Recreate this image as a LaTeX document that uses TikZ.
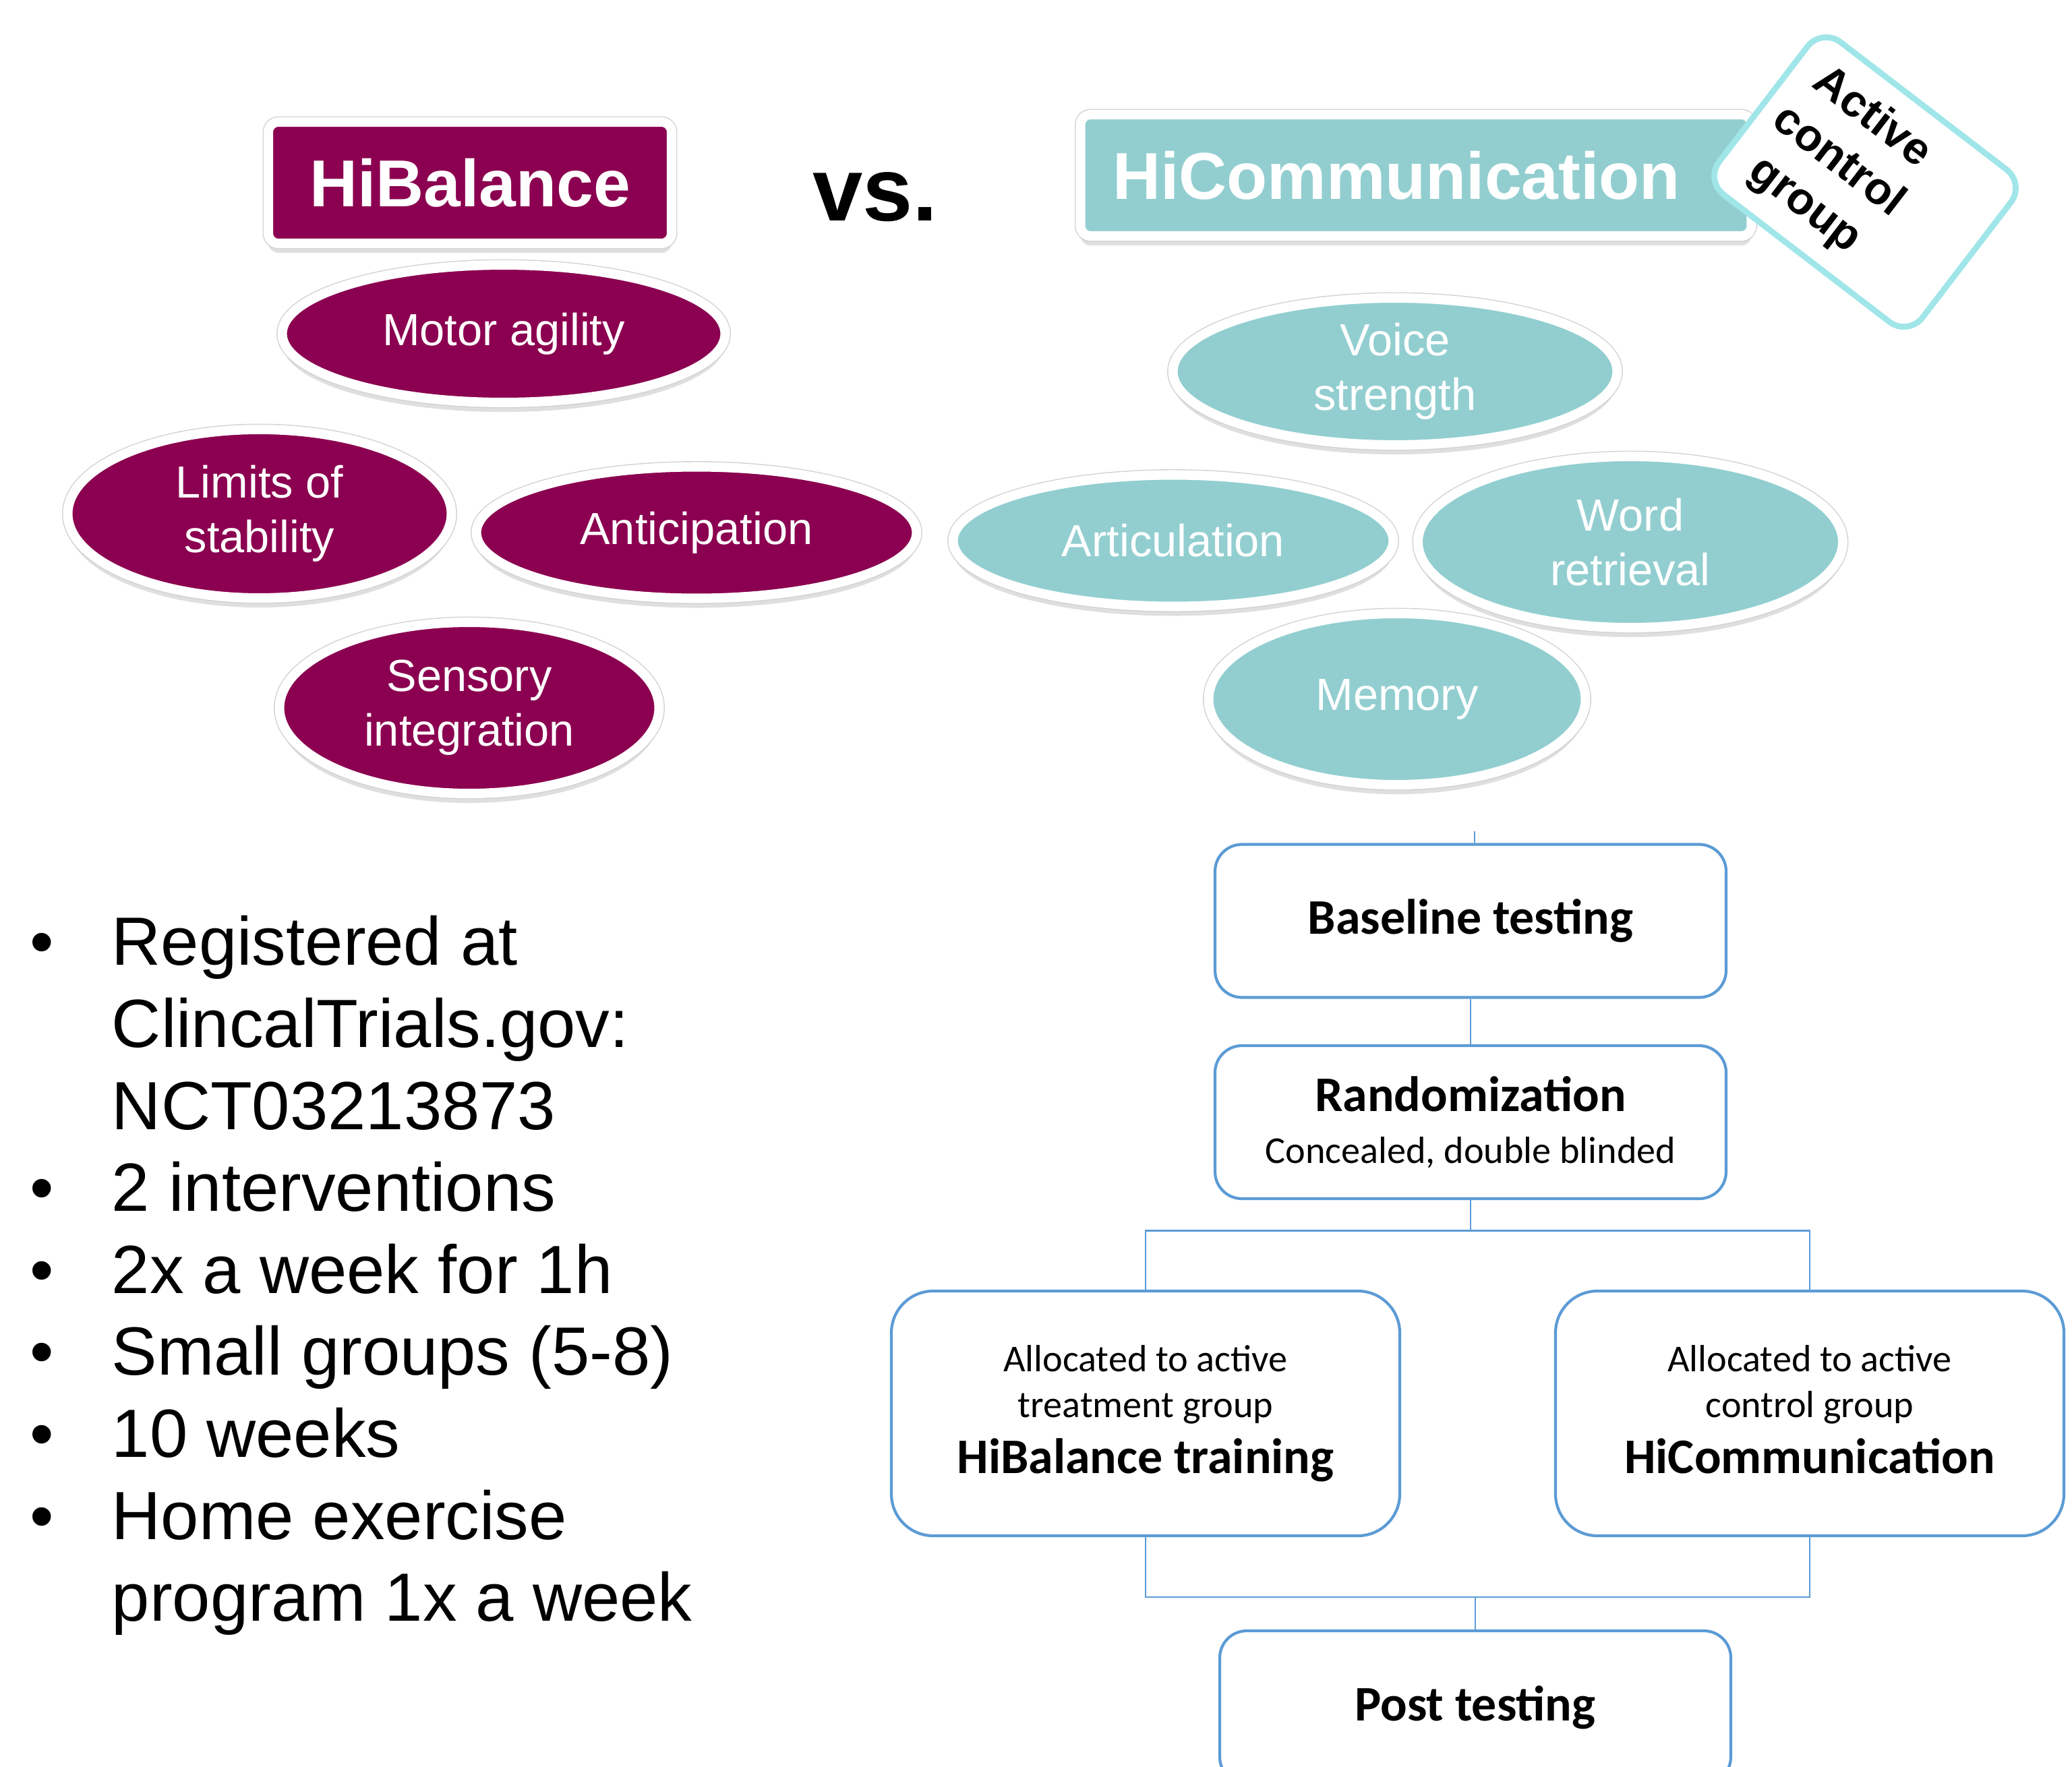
\documentclass[tikz,border=0pt]{standalone}
\usepackage{fontspec}
\setmainfont{Liberation Sans}
\newfontfamily\calibri{Carlito}
\usetikzlibrary{shapes.geometric,shadows}

\definecolor{hipurple}{RGB}{139,0,80}
\definecolor{hiteal}{RGB}{146,206,208}
\definecolor{ctrlcyan}{RGB}{160,230,233}
\definecolor{flowblue}{RGB}{91,155,213}

\begin{document}
\begin{tikzpicture}

  \tikzset{
  TitleStyle/.style = {
  shape = rectangle,
  rounded corners = 0.15cm,
  draw = white,
  line width = 4pt,
  text = white,
  font = \fontsize{28}{34}\selectfont\bfseries,
  minimum height = 1.80cm,
  drop shadow = {shadow xshift=0pt, shadow yshift=-4pt, opacity=0.25},
  preaction = {draw=black!18, line width=4.8pt}},
  AreaStyle/.style = {
  shape = ellipse,
  draw = white,
  line width = 4pt,
  text = white,
  align = center,
  inner sep = 0pt,
  font = \fontsize{19}{23}\selectfont,
  drop shadow = {shadow xshift=0pt, shadow yshift=-4pt, opacity=0.25},
  preaction = {draw=black!18, line width=4.8pt}},
  FlowStyle/.style = {
  shape = rectangle,
  rounded corners = 0.4cm,
  draw = flowblue,
  line width = 1.2pt,
  fill = white,
  align = center,
  inner sep = 0pt,
  minimum width = 7.58cm,
  minimum height = 2.27cm},
  LinkStyle/.style = {draw = flowblue, line width = 0.8pt}}

  \useasboundingbox (0,0) rectangle (30.73,-26.21);

  \node[TitleStyle, fill=hipurple, minimum width=5.98cm] (HB) at (6.97,-2.71) {HiBalance};
  \node[font=\fontsize{38}{44}\selectfont\bfseries] (VS) at (12.98,-2.92) {vs.};
  \node[TitleStyle, fill=hiteal, inner xsep=0.475cm, text width=9.0cm, align=left] (HC) at (21.00,-2.60) {HiCommunication};

  \node[shape=rectangle, rounded corners=0.35cm, draw=ctrlcyan, line width=2.5pt,
    fill=white, minimum width=3.8cm, minimum height=2.85cm, rotate=-37.5] (AC) at (27.66,-2.70) {};
  \node[rotate=-37.5, align=center, font=\fontsize{19}{23.2}\selectfont\bfseries]
    (ACtext) at (27.26,-2.40) {Active\\control\\group};

  \node[AreaStyle, fill=hipurple, minimum width=6.57cm, minimum height=2.04cm] (MA) at (7.47,-4.95) {Motor agility};
  \node[AreaStyle, fill=hipurple, minimum width=5.69cm, minimum height=2.50cm] (LS) at (3.85,-7.62) {Limits of\\stability};
  \node[AreaStyle, fill=hipurple, minimum width=6.53cm, minimum height=1.95cm] (AN) at (10.33,-7.90) {Anticipation};
  \node[AreaStyle, fill=hipurple, minimum width=5.63cm, minimum height=2.54cm] (SI) at (6.96,-10.50) {Sensory\\integration};

  \node[AreaStyle, fill=hiteal, minimum width=6.59cm, minimum height=2.18cm] (VO) at (20.69,-5.51) {Voice\\strength};
  \node[AreaStyle, fill=hiteal, minimum width=6.53cm, minimum height=1.95cm] (AR) at (17.40,-8.02) {Articulation};
  \node[AreaStyle, fill=hiteal, minimum width=6.30cm, minimum height=2.54cm] (WR) at (24.18,-8.04) {Word\\retrieval};
  \node[AreaStyle, fill=hiteal, minimum width=5.59cm, minimum height=2.54cm] (ME) at (20.72,-10.37) {Memory};

  \node[anchor=north west, inner sep=0pt, font=\fontsize{28.8}{34.6}\selectfont] (Facts) at (0.44,-13.46) {%
    \begin{tabular}{@{}p{34.5pt}@{}l@{}}
    • & Registered at\\
      & ClincalTrials.gov:\\
      & NCT03213873\\
    • & 2 interventions\\
    • & 2x a week for 1h\\
    • & Small groups (5-8)\\
    • & 10 weeks\\
    • & Home exercise\\
      & program 1x a week
    \end{tabular}};

  \node[FlowStyle, font=\calibri\fontsize{21}{22}\selectfont\bfseries] (BT) at (21.81,-13.66) {Baseline testing};
  \node[FlowStyle, font=\calibri\fontsize{21}{22}\selectfont] (RZ) at (21.81,-16.645)
    {\textbf{Randomization}\\{\fontsize{16}{19}\selectfont Concealed, double blinded}};
  \node[FlowStyle, rounded corners=0.62cm, minimum width=7.54cm, minimum height=3.63cm,
    font=\calibri\fontsize{16}{19.5}\selectfont] (HT) at (16.99,-20.965)
    {Allocated to active\\treatment group\\[4pt]{\fontsize{21}{24}\selectfont\bfseries HiBalance training}};
  \node[FlowStyle, rounded corners=0.62cm, minimum width=7.54cm, minimum height=3.63cm,
    font=\calibri\fontsize{16}{19.5}\selectfont] (CT) at (26.84,-20.965)
    {Allocated to active\\control group\\[4pt]{\fontsize{21}{24}\selectfont\bfseries HiCommunication\vphantom{g}}};
  \node[FlowStyle, font=\calibri\fontsize{21}{22}\selectfont\bfseries] (PT) at (21.88,-25.325) {Post testing};

  \coordinate (Top) at (21.87,-12.33);
  \draw[LinkStyle] (Top) -- (Top |- BT.north);
  \draw[LinkStyle] (BT.south) -- (RZ.north);
  \path (RZ.south) ++(0,-0.45) coordinate (Split);
  \draw[LinkStyle] (RZ.south) -- (Split);
  \draw[LinkStyle] (HT.north) |- (Split) -| (CT.north);
  \path (PT.north) ++(0,0.48) coordinate (Merge);
  \draw[LinkStyle] (HT.south) |- (Merge) -| (CT.south);
  \draw[LinkStyle] (Merge) -- (PT.north);
\end{tikzpicture}
\end{document}
